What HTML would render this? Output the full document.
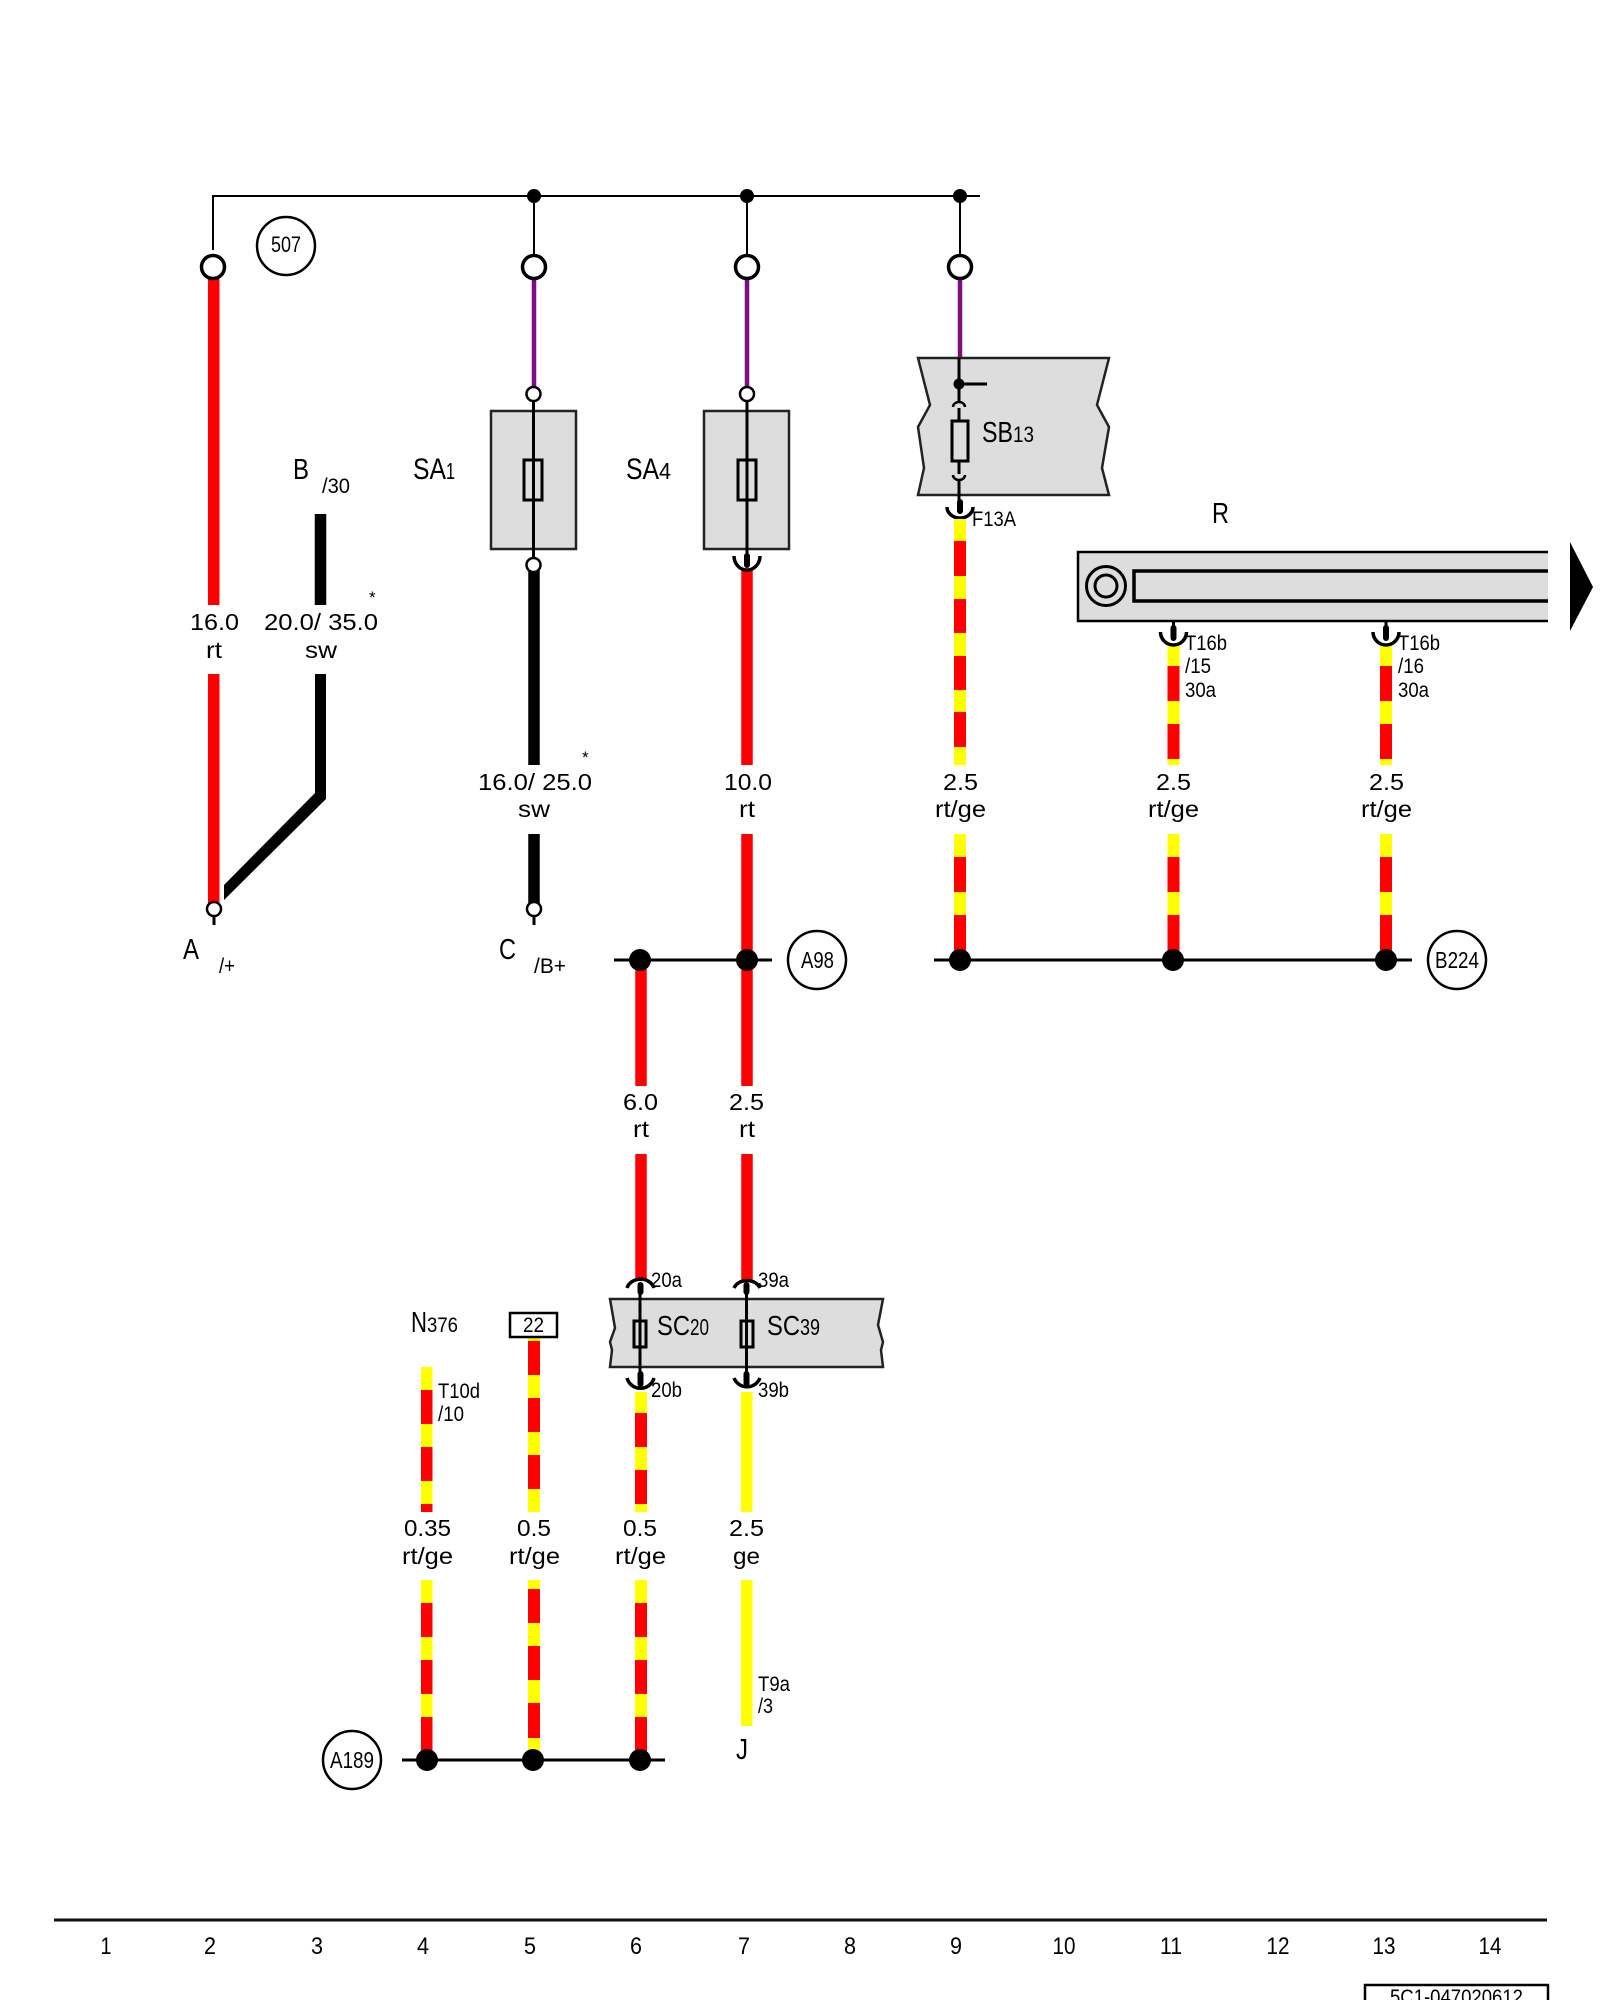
<!DOCTYPE html>
<html>
<head>
<meta charset="utf-8">
<style>
html,body{margin:0;padding:0;background:#fff;width:1600px;height:2000px;overflow:hidden}
svg{display:block}
text{font-family:"Liberation Sans",Arial,sans-serif;fill:#000}
.l{font-size:23px}
.n{font-size:29px}
.t{font-size:21px}
.w{fill:none;stroke-linecap:butt}
.k{fill:none;stroke:#000}
.o{fill:#fff;stroke:#000}
</style>
</head>
<body>
<svg xmlns="http://www.w3.org/2000/svg" width="1600" height="2000" viewBox="0 0 1600 2000">
<rect width="1600" height="2000" fill="#fff"/>

<!-- top bus -->
<path class="k" stroke-width="2" d="M213 250V196H980M534 196V255M747 196V255M960 196V255"/>
<circle cx="534" cy="196" r="7"/><circle cx="747" cy="196" r="7"/><circle cx="960" cy="196" r="7"/>

<!-- solid wires -->
<path class="w" stroke="#f00" stroke-width="11.5" d="M213.7 278V605M213.7 674V905M747 570V765M747 834V1086M747 1154V1280M641 960V1086M641 1154V1280"/>
<path class="w" stroke="#000" stroke-width="11.5" d="M320.5 514V605M534 565V765M534 834V905"/>
<polygon points="315,674 326,674 326,799 224,900 224,885 315,793"/>
<path class="w" stroke="#7d0f85" stroke-width="4.5" d="M534 279V388M747 279V388M960 279V360"/>

<!-- SA boxes -->
<rect x="491" y="411" width="85" height="138" fill="#ddd" stroke="#222" stroke-width="2.5"/>
<rect x="704" y="411" width="85" height="138" fill="#ddd" stroke="#222" stroke-width="2.5"/>
<path class="k" stroke-width="3" d="M533.5 394V565M747 394V565"/>
<rect x="524" y="460" width="18" height="40" fill="none" stroke="#000" stroke-width="3"/>
<rect x="738" y="460" width="18" height="40" fill="none" stroke="#000" stroke-width="3"/>
<circle class="o" cx="533.5" cy="394" r="7" stroke-width="2.5"/>
<circle class="o" cx="747" cy="394" r="7" stroke-width="2.5"/>
<circle class="o" cx="533.5" cy="565" r="7" stroke-width="2.5"/>
<path class="k" stroke-width="6" stroke-linecap="round" d="M747 556V565"/>
<path class="k" stroke-width="3.5" d="M734 556A13 14 0 0 0 760 556"/>

<!-- top connectors -->
<circle class="o" cx="213" cy="267" r="11.5" stroke-width="3.5"/>
<circle class="o" cx="534" cy="267" r="11.5" stroke-width="3.5"/>
<circle class="o" cx="747" cy="267" r="11.5" stroke-width="3.5"/>
<circle class="o" cx="960" cy="267" r="11.5" stroke-width="3.5"/>
<circle class="o" cx="286" cy="246" r="29" stroke-width="2.5"/>
<text x="271" y="252" font-size="22" textLength="30" lengthAdjust="spacingAndGlyphs">507</text>

<!-- SB box -->
<polygon points="918,358 1109,358 1097,405 1109,427 1102,468 1109,495 918,495 924,468 918,427 930,405" fill="#ddd" stroke="#222" stroke-width="2.5"/>
<path class="k" stroke-width="3" d="M959 358V401M959 408V474M959 480V508M959 384H987"/>
<circle cx="959" cy="384" r="5.5"/>
<path class="k" stroke-width="2.5" d="M953 407A6 5 0 0 1 965 407M953 475A6 5 0 0 0 965 475"/>
<rect x="952" y="421" width="16" height="40" fill="#ddd" stroke="#000" stroke-width="3"/>
<path class="k" stroke-width="6" stroke-linecap="round" d="M960 502V511"/>
<path class="k" stroke-width="3.5" d="M947 507A13 11 0 0 0 973 507"/>
<text x="982" y="442" font-size="29" textLength="31" lengthAdjust="spacingAndGlyphs">SB</text>
<text x="1013" y="442" font-size="22" textLength="21" lengthAdjust="spacingAndGlyphs">13</text>
<text class="t" x="972" y="526" textLength="44" lengthAdjust="spacingAndGlyphs">F13A</text>

<!-- R component -->
<path d="M1548 552H1078V621H1548Z" fill="#ddd"/>
<path class="k" stroke-width="2.5" d="M1548 552H1078V621H1548"/>
<path fill="none" stroke="#000" stroke-width="3.5" d="M1548 571H1134V601H1548"/>
<circle cx="1106" cy="586" r="19.5" fill="none" stroke="#000" stroke-width="3"/>
<circle cx="1106" cy="586" r="11" fill="none" stroke="#000" stroke-width="3"/>
<polygon points="1570,542 1593,587 1570,631"/>
<text class="n" x="1212" y="523" textLength="17" lengthAdjust="spacingAndGlyphs">R</text>

<!-- striped wires: column 960 -->
<rect x="954" y="519" width="12" height="246" fill="#ff0"/>
<rect x="954" y="834" width="12" height="126" fill="#ff0"/>
<path class="w" stroke="#f00" stroke-width="12" d="M960 541V576M960 599V633M960 656V690M960 712V747M960 857V892M960 915V960"/>
<!-- column 1173 -->
<rect x="1167.5" y="645" width="12" height="120" fill="#ff0"/>
<rect x="1167.5" y="834" width="12" height="126" fill="#ff0"/>
<path class="w" stroke="#f00" stroke-width="12" d="M1173.5 666V701M1173.5 724V759M1173.5 857V892M1173.5 915V960"/>
<!-- column 1386 -->
<rect x="1380" y="645" width="12" height="120" fill="#ff0"/>
<rect x="1380" y="834" width="12" height="126" fill="#ff0"/>
<path class="w" stroke="#f00" stroke-width="12" d="M1386 666V701M1386 724V759M1386 857V892M1386 915V960"/>
<!-- T16b cups -->
<path class="k" stroke-width="3" d="M1173.5 621V630M1386 621V630"/>
<path class="k" stroke-width="6" stroke-linecap="round" d="M1173.5 628V638M1386 628V638"/>
<path class="k" stroke-width="3.5" d="M1160.5 632A13 13 0 0 0 1186.5 632M1373 632A13 13 0 0 0 1399 632"/>
<text class="t" x="1185" y="650" textLength="42" lengthAdjust="spacingAndGlyphs">T16b</text>
<text class="t" x="1185" y="673" textLength="26" lengthAdjust="spacingAndGlyphs">/15</text>
<text class="t" x="1185" y="697" textLength="31" lengthAdjust="spacingAndGlyphs">30a</text>
<text class="t" x="1398" y="650" textLength="42" lengthAdjust="spacingAndGlyphs">T16b</text>
<text class="t" x="1398" y="673" textLength="26" lengthAdjust="spacingAndGlyphs">/16</text>
<text class="t" x="1398" y="697" textLength="31" lengthAdjust="spacingAndGlyphs">30a</text>

<!-- A/C terminals -->
<path class="k" stroke-width="3" d="M214 916V925M534 916V925"/>
<circle class="o" cx="214" cy="909" r="7" stroke-width="2.5"/>
<circle class="o" cx="534" cy="909" r="7" stroke-width="2.5"/>

<!-- Ground buses -->
<path class="k" stroke-width="3" d="M614 960H772M934 960H1412M402 1760H665"/>
<circle cx="640" cy="960" r="11"/><circle cx="747" cy="960" r="11"/>
<circle cx="960" cy="960" r="11"/><circle cx="1173" cy="960" r="11"/><circle cx="1386" cy="960" r="11"/>
<circle class="o" cx="817" cy="960" r="29" stroke-width="2.5"/>
<circle class="o" cx="1457" cy="960" r="29" stroke-width="2.5"/>
<circle class="o" cx="352" cy="1760" r="29" stroke-width="2.5"/>
<text x="801" y="968" font-size="23" textLength="33" lengthAdjust="spacingAndGlyphs">A98</text>
<text x="1435" y="968" font-size="23" textLength="44" lengthAdjust="spacingAndGlyphs">B224</text>
<text x="330" y="1768" font-size="23" textLength="44" lengthAdjust="spacingAndGlyphs">A189</text>

<!-- SC block -->
<polygon points="610,1299 883,1299 878,1325 883,1342 881,1350 883,1367 610,1367 612,1350 610,1342 615,1328" fill="#ddd" stroke="#222" stroke-width="2.5"/>
<path class="k" stroke-width="3" d="M640 1288V1378M746.5 1288V1378"/>
<rect x="634" y="1321" width="12" height="26" fill="none" stroke="#000" stroke-width="3"/>
<rect x="741" y="1321" width="12" height="26" fill="none" stroke="#000" stroke-width="3"/>
<path class="k" stroke-width="3.5" d="M627 1288A14 12 0 0 1 654 1288M734 1288A14 12 0 0 1 760 1288M627 1378A14 14 0 0 0 654 1378M734 1378A14 14 0 0 0 760 1378"/>
<path class="k" stroke-width="6" stroke-linecap="round" d="M640.5 1285V1292M746.5 1285V1292M640.5 1374V1384M746.5 1374V1384"/>
<text x="657" y="1335" font-size="28" textLength="33" lengthAdjust="spacingAndGlyphs">SC</text>
<text x="690" y="1335" font-size="23" textLength="19" lengthAdjust="spacingAndGlyphs">20</text>
<text x="767" y="1335" font-size="28" textLength="33" lengthAdjust="spacingAndGlyphs">SC</text>
<text x="800" y="1335" font-size="23" textLength="20" lengthAdjust="spacingAndGlyphs">39</text>
<text class="t" x="651" y="1287" textLength="31" lengthAdjust="spacingAndGlyphs">20a</text>
<text class="t" x="758" y="1287" textLength="31" lengthAdjust="spacingAndGlyphs">39a</text>
<text class="t" x="651" y="1397" textLength="31" lengthAdjust="spacingAndGlyphs">20b</text>
<text class="t" x="758" y="1397" textLength="31" lengthAdjust="spacingAndGlyphs">39b</text>

<!-- lower striped wires: upper part -->
<rect x="421" y="1367" width="11.5" height="145" fill="#ff0"/>
<path class="w" stroke="#f00" stroke-width="11.5" d="M426.75 1390V1424M426.75 1447V1481M426.75 1504V1512"/>
<rect x="528" y="1337" width="12" height="175" fill="#ff0"/>
<path class="w" stroke="#f00" stroke-width="12" d="M534 1341V1375M534 1398V1432M534 1455V1489"/>
<rect x="635" y="1392" width="12" height="120" fill="#ff0"/>
<path class="w" stroke="#f00" stroke-width="12" d="M641 1413V1447M641 1470V1504"/>
<rect x="741" y="1392" width="11.5" height="120" fill="#ff0"/>
<!-- lower striped wires: lower part -->
<rect x="421" y="1580" width="11.5" height="180" fill="#ff0"/>
<path class="w" stroke="#f00" stroke-width="11.5" d="M426.75 1603V1637M426.75 1660V1694M426.75 1717V1760"/>
<rect x="528" y="1580" width="12" height="180" fill="#ff0"/>
<path class="w" stroke="#f00" stroke-width="12" d="M534 1589V1623M534 1646V1680M534 1703V1738"/>
<rect x="635" y="1580" width="12" height="180" fill="#ff0"/>
<path class="w" stroke="#f00" stroke-width="12" d="M641 1603V1637M641 1660V1694M641 1717V1760"/>
<rect x="741" y="1580" width="11.5" height="146" fill="#ff0"/>
<circle cx="427" cy="1760" r="11"/><circle cx="533" cy="1760" r="11"/><circle cx="640" cy="1760" r="11"/>

<rect x="510" y="1313" width="47" height="24" fill="#fff" stroke="#000" stroke-width="2.5"/>
<text x="523" y="1332" font-size="21" textLength="21" lengthAdjust="spacingAndGlyphs">22</text>

<!-- component labels -->
<text class="n" x="293" y="479" textLength="16" lengthAdjust="spacingAndGlyphs">B</text>
<text class="t" x="322" y="493" textLength="28" lengthAdjust="spacingAndGlyphs">/30</text>
<text x="413" y="479" font-size="30" textLength="33" lengthAdjust="spacingAndGlyphs">SA</text>
<text x="446" y="479" font-size="23" textLength="9" lengthAdjust="spacingAndGlyphs">1</text>
<text x="626" y="479" font-size="30" textLength="33" lengthAdjust="spacingAndGlyphs">SA</text>
<text x="659" y="479" font-size="23" textLength="12" lengthAdjust="spacingAndGlyphs">4</text>
<text class="n" x="183" y="959" textLength="16" lengthAdjust="spacingAndGlyphs">A</text>
<text class="t" x="219" y="973" textLength="16" lengthAdjust="spacingAndGlyphs">/+</text>
<text class="n" x="499" y="959" textLength="17" lengthAdjust="spacingAndGlyphs">C</text>
<text class="t" x="534" y="973" textLength="32" lengthAdjust="spacingAndGlyphs">/B+</text>
<text class="n" x="411" y="1332" textLength="16" lengthAdjust="spacingAndGlyphs">N</text>
<text class="t" x="427" y="1332" textLength="31" lengthAdjust="spacingAndGlyphs">376</text>
<text class="t" x="438" y="1398" textLength="42" lengthAdjust="spacingAndGlyphs">T10d</text>
<text class="t" x="438" y="1421" textLength="26" lengthAdjust="spacingAndGlyphs">/10</text>
<text class="t" x="758" y="1691" textLength="32" lengthAdjust="spacingAndGlyphs">T9a</text>
<text class="t" x="758" y="1713" textLength="15" lengthAdjust="spacingAndGlyphs">/3</text>
<text class="n" x="736" y="1759" textLength="12" lengthAdjust="spacingAndGlyphs">J</text>

<!-- wire labels -->
<text class="l" x="190" y="630" textLength="49" lengthAdjust="spacingAndGlyphs">16.0</text>
<text class="l" x="206" y="658" textLength="16" lengthAdjust="spacingAndGlyphs">rt</text>
<text class="l" x="264" y="630" textLength="114" lengthAdjust="spacingAndGlyphs">20.0/ 35.0</text>
<text class="l" x="305" y="658" textLength="32" lengthAdjust="spacingAndGlyphs">sw</text>
<text x="369" y="603" font-size="17">*</text>
<text class="l" x="478" y="790" textLength="114" lengthAdjust="spacingAndGlyphs">16.0/ 25.0</text>
<text class="l" x="518" y="817" textLength="32" lengthAdjust="spacingAndGlyphs">sw</text>
<text x="582" y="763" font-size="17">*</text>
<text class="l" x="724" y="790" textLength="48" lengthAdjust="spacingAndGlyphs">10.0</text>
<text class="l" x="739" y="817" textLength="16" lengthAdjust="spacingAndGlyphs">rt</text>
<text class="l" x="943" y="790" textLength="35" lengthAdjust="spacingAndGlyphs">2.5</text>
<text class="l" x="935" y="817" textLength="51" lengthAdjust="spacingAndGlyphs">rt/ge</text>
<text class="l" x="1156" y="790" textLength="35" lengthAdjust="spacingAndGlyphs">2.5</text>
<text class="l" x="1148" y="817" textLength="51" lengthAdjust="spacingAndGlyphs">rt/ge</text>
<text class="l" x="1369" y="790" textLength="35" lengthAdjust="spacingAndGlyphs">2.5</text>
<text class="l" x="1361" y="817" textLength="51" lengthAdjust="spacingAndGlyphs">rt/ge</text>
<text class="l" x="623" y="1110" textLength="35" lengthAdjust="spacingAndGlyphs">6.0</text>
<text class="l" x="633" y="1137" textLength="16" lengthAdjust="spacingAndGlyphs">rt</text>
<text class="l" x="729" y="1110" textLength="35" lengthAdjust="spacingAndGlyphs">2.5</text>
<text class="l" x="739" y="1137" textLength="16" lengthAdjust="spacingAndGlyphs">rt</text>
<text class="l" x="404" y="1536" textLength="47" lengthAdjust="spacingAndGlyphs">0.35</text>
<text class="l" x="402" y="1564" textLength="51" lengthAdjust="spacingAndGlyphs">rt/ge</text>
<text class="l" x="517" y="1536" textLength="34" lengthAdjust="spacingAndGlyphs">0.5</text>
<text class="l" x="509" y="1564" textLength="51" lengthAdjust="spacingAndGlyphs">rt/ge</text>
<text class="l" x="623" y="1536" textLength="34" lengthAdjust="spacingAndGlyphs">0.5</text>
<text class="l" x="615" y="1564" textLength="51" lengthAdjust="spacingAndGlyphs">rt/ge</text>
<text class="l" x="729" y="1536" textLength="35" lengthAdjust="spacingAndGlyphs">2.5</text>
<text class="l" x="733" y="1564" textLength="27" lengthAdjust="spacingAndGlyphs">ge</text>

<!-- footer -->
<rect x="54" y="1918.5" width="1493" height="3" fill="#111"/>
<g font-size="24" text-anchor="middle">
<text x="106" y="1954" textLength="11" lengthAdjust="spacingAndGlyphs">1</text><text x="210" y="1954" textLength="12" lengthAdjust="spacingAndGlyphs">2</text><text x="317" y="1954" textLength="12" lengthAdjust="spacingAndGlyphs">3</text><text x="423" y="1954" textLength="12" lengthAdjust="spacingAndGlyphs">4</text><text x="530" y="1954" textLength="12" lengthAdjust="spacingAndGlyphs">5</text><text x="636" y="1954" textLength="12" lengthAdjust="spacingAndGlyphs">6</text><text x="744" y="1954" textLength="12" lengthAdjust="spacingAndGlyphs">7</text><text x="850" y="1954" textLength="12" lengthAdjust="spacingAndGlyphs">8</text><text x="956" y="1954" textLength="12" lengthAdjust="spacingAndGlyphs">9</text><text x="1064" y="1954" textLength="23" lengthAdjust="spacingAndGlyphs">10</text><text x="1171" y="1954" textLength="22" lengthAdjust="spacingAndGlyphs">11</text><text x="1278" y="1954" textLength="23" lengthAdjust="spacingAndGlyphs">12</text><text x="1384" y="1954" textLength="23" lengthAdjust="spacingAndGlyphs">13</text><text x="1490" y="1954" textLength="23" lengthAdjust="spacingAndGlyphs">14</text>
</g>
<rect x="1365" y="1985" width="183" height="30" fill="#fff" stroke="#000" stroke-width="2.5"/>
<text x="1390" y="2004" font-size="21" textLength="133" lengthAdjust="spacingAndGlyphs">5C1-047020612</text>
</svg>
</body>
</html>
